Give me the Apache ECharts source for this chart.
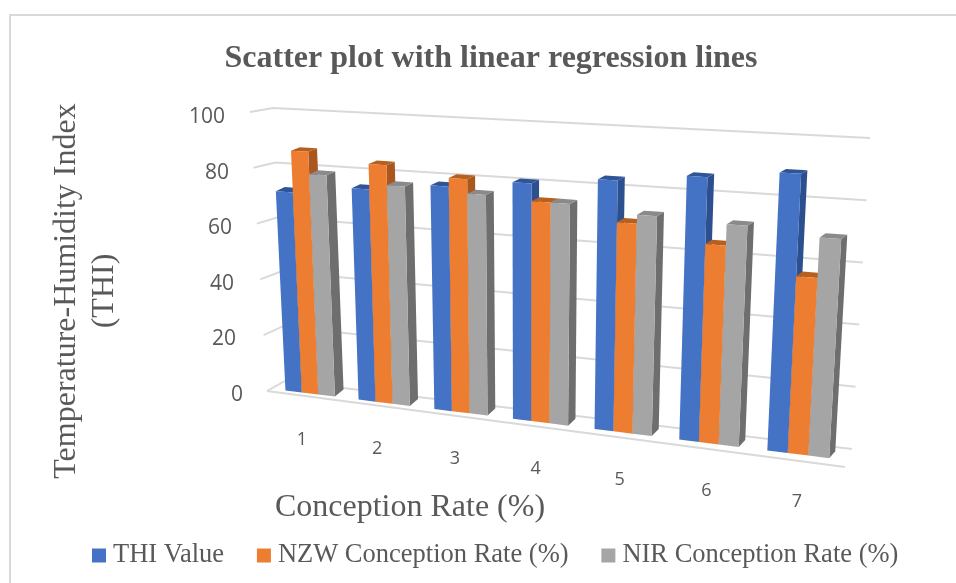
<!DOCTYPE html>
<html><head><meta charset="utf-8">
<style>html,body{margin:0;padding:0;background:#fff}#c{width:956px;height:583px}</style>
<script src="https://cdn.jsdelivr.net/npm/echarts@6/dist/echarts.min.js"></script>
</head><body><div id="c"></div>
<script>
var categories = ['1','2','3','4','5','6','7'];
var thiValue = [72,75,78,81,84,87,90];
var nzwRate = [87,84,81,75,70,65,57];
var nirRate = [79,77,76,75,73,72,70];
var yTicks = [0,20,40,60,80,100];
var seriesNames = ['THI Value','NZW Conception Rate (%)','NIR Conception Rate (%)'];
var titleText = 'Scatter plot with linear regression lines';
var xName = 'Conception Rate (%)';
var yName = 'Temperature-Humidity Index\n(THI)';

var SERIF = '"Liberation Serif","Times New Roman",serif';
var TEXT = '#595959';
var GRIDC = '#d9d9d9';
var colors = ['#4472C4','#ED7D31','#A5A5A5'];
var sideC = ['#2c4f8f','#a9571f','#6e6e6e'];
var topC = ['#2f5597','#b5601f','#8a8a8a'];

// perspective view of the chart's plane
var K = 1.14;
var F = {a:[274,389], b:[844,460], c:[260,113], d:[862,146]};
function lerp(p,q,t){return [p[0]+(q[0]-p[0])*t,p[1]+(q[1]-p[1])*t];}
function proj(u,v){
  var w = u/(u+K*(1-u));
  return lerp(lerp(F.a,F.b,w),lerp(F.c,F.d,w),v);
}
function depth(u,v,p){return [p[0]+9-3*u,p[1]-7+4*v];}

function unit(params,px,py){
  var r = params.coordSys;
  return [(px-r.x)/r.width,1-(py-r.y)/r.height];
}
var GROUP = 0.68, N = 3;
function barRender(si){
  return function(params,api){
    var c = api.coord([api.value(0),api.value(1)]);
    var band = api.size([1,0])[0];
    var bw = band*GROUP/N;
    var x0 = c[0]-band*GROUP/2+si*bw, x1 = x0+bw;
    var l = unit(params,x0,c[1]), rt = unit(params,x1,c[1]);
    var u0=l[0],u1=rt[0],v=l[1];
    var bl=proj(u0,0),br=proj(u1,0),tl=proj(u0,v),tr=proj(u1,v);
    var bbr=depth(u1,0,br),btr=depth(u1,v,tr),btl=depth(u0,v,tl);
    return {type:'group',children:[
      {type:'polygon',shape:{points:[br,bbr,btr,tr]},style:{fill:sideC[si]}},
      {type:'polygon',shape:{points:[tl,tr,btr,btl]},style:{fill:topC[si]}},
      {type:'polygon',shape:{points:[bl,br,tr,tl]},style:{fill:colors[si]}}
    ]};
  };
}
function gridRender(params,api){
  var c = api.coord([0,api.value(1)]);
  var v = unit(params,c[0],c[1])[1];
  var start = lerp([267,391],[250,112],v);
  var corner = lerp([285,381],[273,108],v);
  var end = lerp([852,449],[870,138],v);
  var ch = [{type:'polyline',shape:{points:[start,corner,end]},style:{fill:null,stroke:GRIDC,lineWidth:2}}];
  if(v===0){ch.push({type:'line',shape:{x1:267,y1:391,x2:845,y2:467},style:{stroke:GRIDC,lineWidth:2}});}
  return {type:'group',children:ch};
}
function catLabelRender(params,api){
  var c = api.coord([api.value(0),0]);
  var u = unit(params,c[0],c[1])[0];
  var p = proj(u,0);
  return {type:'text',x:p[0]-8.6+8*u,y:p[1]+46+2*u,style:{text:categories[api.value(0)],fill:TEXT,font:'18px "Open Sans"',align:'center',verticalAlign:'middle'}};
}
function rows(arr){return arr.map(function(v,i){return [i,v];});}
var pad = {'0':0,'20':7,'40':9,'60':11,'80':14,'100':18};
var rich = {};
yTicks.forEach(function(t){rich['t'+t]={padding:[0,pad[t],0,0],fontSize:21,fontFamily:'"Open Sans"',color:TEXT};});

var series = [
 {type:'custom',name:'grid',silent:true,renderItem:gridRender,data:yTicks.map(function(t){return [0,t];}),encode:{x:0,y:1},z:1}
];
[thiValue,nzwRate,nirRate].forEach(function(vals,i){
  series.push({type:'custom',name:seriesNames[i],renderItem:barRender(i),data:rows(vals),encode:{x:0,y:1},itemStyle:{color:colors[i]},z:2+i});
});
series.push({type:'custom',name:'labels',silent:true,renderItem:catLabelRender,data:rows(categories.map(function(){return 0;})),encode:{x:0,y:1},z:6});

var chart = echarts.init(document.getElementById('c'),null,{renderer:'canvas'});
chart.setOption({
  animation:false,
  backgroundColor:'#fff',
  title:{text:titleText,left:486,top:38,textAlign:'center',textStyle:{fontFamily:SERIF,fontWeight:'bold',fontSize:32,color:TEXT}},
  grid:{left:274,right:112,top:117,bottom:188,containLabel:false},
  xAxis:{type:'category',data:categories,axisLine:{show:false},axisTick:{show:false},axisLabel:{show:false},splitLine:{show:false}},
  yAxis:{type:'value',min:0,max:100,interval:20,axisLine:{show:false},axisTick:{show:false},splitLine:{show:false},
    axisLabel:{margin:31,formatter:function(v){return '{t'+v+'|'+v+'}';},rich:rich}},
  legend:{left:87,top:537,icon:'rect',itemWidth:14,itemHeight:14,itemGap:32.8,data:seriesNames,
    textStyle:{fontFamily:SERIF,fontSize:26.5,color:TEXT,padding:[0,0,0,2]}},
  graphic:[
    {type:'rect',shape:{x:10,y:15,width:960,height:600},style:{fill:null,stroke:GRIDC,lineWidth:2},z:-1,silent:true},
    {type:'text',x:410,y:508,style:{text:xName,font:'32px '+SERIF,fill:TEXT,align:'center',verticalAlign:'middle'},silent:true},
    {type:'text',x:86,y:291,rotation:Math.PI/2,style:{text:yName,font:'32px '+SERIF,fill:TEXT,align:'center',verticalAlign:'middle',lineHeight:38},silent:true}
  ],
  series:series
});
</script></body></html>
